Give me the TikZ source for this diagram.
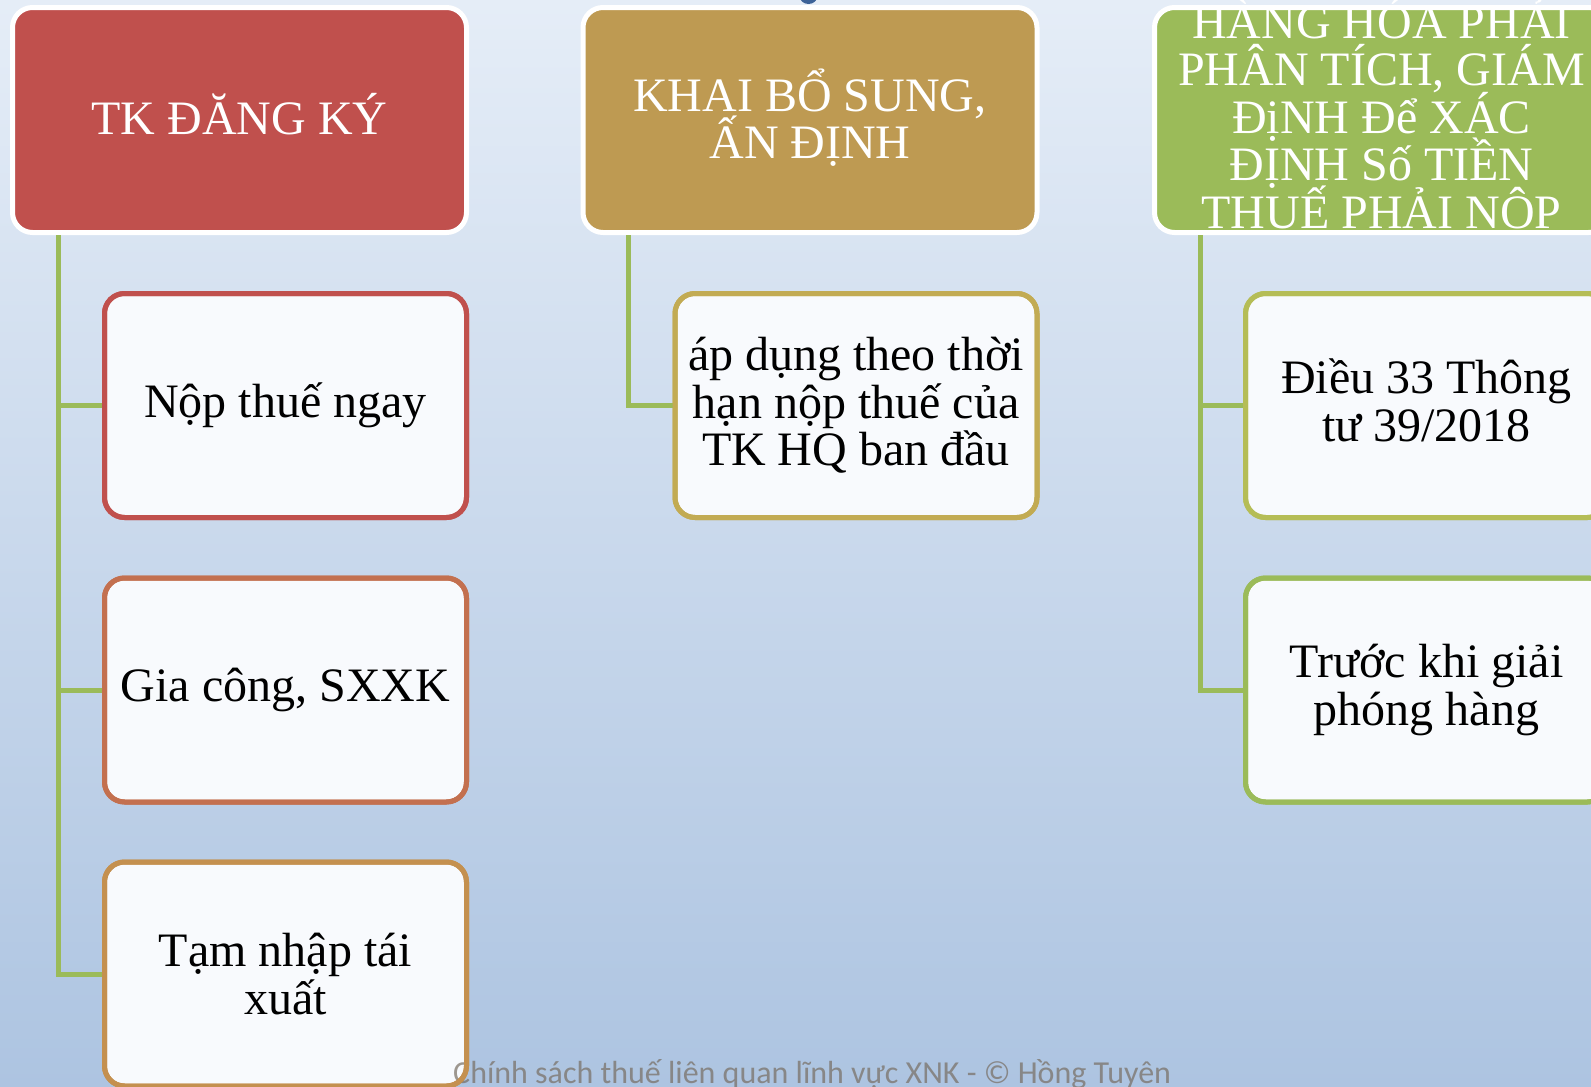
\documentclass[tikz,border=0pt]{standalone}
\usepackage{fontspec}
\setmainfont{Liberation Serif}
\newfontfamily\footfont{Carlito}
\usetikzlibrary{calc}
\newcommand\mybigfont{\fontsize{48}{47.5}\selectfont\lineskiplimit-100pt\relax}
\definecolor{bgtop}{HTML}{E5EDF7}
\definecolor{bgbot}{HTML}{ADC4E1}
\definecolor{hred}{HTML}{C0504D}
\definecolor{hgold}{HTML}{BE9A52}
\definecolor{hgreen}{HTML}{9BBB59}
\definecolor{bA}{HTML}{C0504D}
\definecolor{bB}{HTML}{C3704F}
\definecolor{bC}{HTML}{C4904F}
\definecolor{bD}{HTML}{C2AB53}
\definecolor{bE}{HTML}{B5BD56}
\definecolor{bF}{HTML}{9BBB59}
\definecolor{cfill}{HTML}{F8FAFD}
\definecolor{lgreen}{HTML}{9BBB59}
\definecolor{footgray}{RGB}{119,109,97}
\definecolor{knob}{HTML}{3D6398}
\begin{document}
\begin{tikzpicture}[x=1pt,y=-1pt,
  hdr/.style={draw=white,line width=5pt,rounded corners=20pt,minimum width=454pt,minimum height=225pt,inner sep=0pt},
  htext/.style={text=white,align=center,inner sep=0pt,font=\mybigfont},
  child/.style={line width=5pt,rounded corners=20pt,fill=cfill,minimum width=362pt,minimum height=224pt,inner sep=0pt,outer sep=0pt,align=center,font=\mybigfont},
  conn/.style={draw=lgreen,line width=5pt},
  cborder/.style={line width=5pt,rounded corners=20pt}]
\useasboundingbox (0,0) rectangle (1591,1087);
\begin{scope}
\clip (0,0) rectangle (1591,1087);
\shade[top color=bgtop,bottom color=bgbot] (0,0) rectangle (1591,1087);
\fill[knob] (808.5,-4) ellipse [x radius=9, y radius=8];
% headers
\node[hdr,fill=hred] (h1) at (239.5,120) {};
\node[hdr,fill=hgold] (h2) at (810,120) {};
\node[hdr,fill=hgreen] (h3) at (1381.5,120) {};
% connector tops
\coordinate (k1) at ($(h1.south west)+(48,0)$);
\coordinate (k2) at ($(h2.south west)+(48,0)$);
\coordinate (k3) at ($(h3.south west)+(48,0)$);
% children
\node[child,draw=bA] (c11) at (285.5,405.5) {Nộp thuế ngay};
\node[child,draw=bB] (c12) at (285.5,690) {Gia công, SXXK};
\node[child,draw=bC] (c13) at (285.5,974) {Tạm nhập tái\\xuất};
\node[child,draw=bD] (c21) at (856,405.5) {áp dụng theo thời\\hạn nộp thuế của\\TK HQ ban đầu};
\node[child,draw=bE] (c31) at (1426.5,405.5) {};
\node[child,draw=bF] (c32) at (1426.5,690) {Trước khi giải\\phóng hàng};
\node[align=center,inner sep=0pt,font=\mybigfont] (c31t) at ($(c31.center)+(0,-5)$) {Điều 33 Thông\\tư 39/2018};
% connectors
\draw[conn] (k1) |- (c13.west);
\draw[conn] (k1) |- (c11.west);
\draw[conn] (k1) |- (c12.west);
\draw[conn] (k2) |- (c21.west);
\draw[conn] (k3) |- (c32.west);
\draw[conn] (k3) |- (c31.west);
% footer
\node[anchor=base west,inner sep=0pt,text=footgray,text opacity=0.7,font=\footfont\fontsize{32}{34}\selectfont] (foot) at (453,1083) {Chính sách thuế liên quan lĩnh vực XNK - © Hồng Tuyên};
% child borders over connector ends
\draw[bA,cborder] (c11.north west) rectangle (c11.south east);
\draw[bB,cborder] (c12.north west) rectangle (c12.south east);
\draw[bC,cborder] (c13.north west) rectangle (c13.south east);
\draw[bD,cborder] (c21.north west) rectangle (c21.south east);
\draw[bE,cborder] (c31.north west) rectangle (c31.south east);
\draw[bF,cborder] (c32.north west) rectangle (c32.south east);
% header texts
\node[htext] (t1) at ($(h1.center)+(0,-6)$) {TK ĐĂNG KÝ};
\node[htext] (t2) at ($(h2.center)+(0,-2.5)$) {KHAI BỔ SUNG,\\ẤN ĐỊNH};
\node[htext] (t3) at ($(h3.center)+(0,-7)$) {HÀNG HÓA PHẢI\\PHÂN TÍCH, GIÁM\\ĐịNH Để XÁC\\ĐỊNH Số TIỀN\\THUẾ PHẢI NÔP};
\end{scope}
\end{tikzpicture}
\end{document}
